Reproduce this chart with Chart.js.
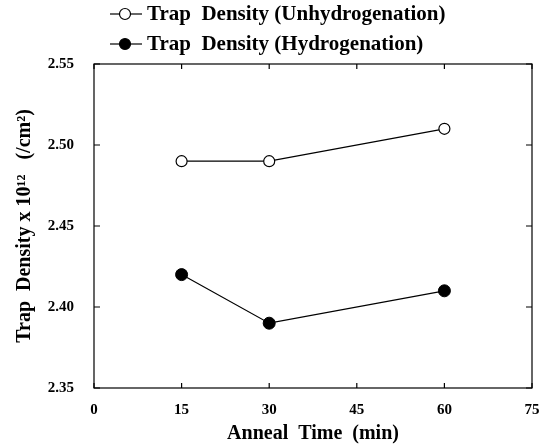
<!DOCTYPE html>
<html lang="en">

<head>
    <meta charset="UTF-8">
    <title>Trap Density vs Anneal Time</title>
    <script src="https://cdn.jsdelivr.net/npm/chart.js"></script>
    <style>
        body { margin: 0; background: #fff; }
        #box { width: 558px; height: 448px; }
    </style>
</head>

<body>
    <div id="box">
        <canvas id="graficoTrap" width="558" height="448"></canvas>
    </div>

<script>

    // dados
    const annealTimes = [15, 30, 60];
    const unhydrogenated = [2.49, 2.49, 2.51];
    const hydrogenated = [2.42, 2.39, 2.41];
    const xTicks = [0, 15, 30, 45, 60, 75];
    const yTicks = [2.35, 2.40, 2.45, 2.50, 2.55];

    const serif = "'Liberation Serif', 'Times New Roman', serif";

    // caixa em volta + ticks pra dentro
    const moldura = {
        id: 'moldura',
        afterDraw(chart) {
            const { ctx, chartArea: a, scales } = chart;
            ctx.save();
            ctx.strokeStyle = '#000';
            ctx.lineWidth = 1.2;
            ctx.strokeRect(a.left, a.top, a.right - a.left, a.bottom - a.top);
            ctx.beginPath();
            scales.x.ticks.forEach(t => {
                const px = scales.x.getPixelForValue(t.value);
                ctx.moveTo(px, a.bottom); ctx.lineTo(px, a.bottom - 5);
                ctx.moveTo(px, a.top); ctx.lineTo(px, a.top + 5);
            });
            scales.y.ticks.forEach(t => {
                const py = scales.y.getPixelForValue(t.value);
                ctx.moveTo(a.left, py); ctx.lineTo(a.left + 6, py);
                ctx.moveTo(a.right, py); ctx.lineTo(a.right - 6, py);
            });
            ctx.stroke();
            ctx.restore();
        }
    };

    // legenda em duas linhas, linha + marcador
    const legenda = {
        id: 'legenda',
        afterDraw(chart) {
            const ctx = chart.ctx;
            ctx.save();
            chart.data.datasets.forEach((ds, i) => {
                const y = 14 + i * 30;
                ctx.strokeStyle = '#000';
                ctx.lineWidth = 1.2;
                ctx.beginPath();
                ctx.moveTo(110, y); ctx.lineTo(142, y);
                ctx.stroke();
                ctx.beginPath();
                ctx.arc(125, y, 5.5, 0, Math.PI * 2);
                ctx.fillStyle = ds.pointBackgroundColor;
                ctx.fill();
                ctx.stroke();
                ctx.fillStyle = '#000';
                ctx.font = `bold 21px ${serif}`;
                ctx.textBaseline = 'middle';
                ctx.fillText(ds.label, 147, y + 1);
            });
            ctx.restore();
        }
    };

    const ctx = document.getElementById('graficoTrap').getContext('2d');

    new Chart(ctx, {
        type: 'line',
        data: {
            datasets: [
                {
                    label: 'Trap  Density (Unhydrogenation)',
                    data: annealTimes.map((t, i) => ({ x: t, y: unhydrogenated[i] })),
                    borderColor: '#000',
                    borderWidth: 1.2,
                    pointRadius: 5.5,
                    pointBorderWidth: 1.2,
                    pointBackgroundColor: '#fff',
                    pointBorderColor: '#000'
                },
                {
                    label: 'Trap  Density (Hydrogenation)',
                    data: annealTimes.map((t, i) => ({ x: t, y: hydrogenated[i] })),
                    borderColor: '#000',
                    borderWidth: 1.2,
                    pointRadius: 6,
                    pointBorderWidth: 1,
                    pointBackgroundColor: '#000',
                    pointBorderColor: '#000'
                }
            ]
        },
        options: {
            responsive: false,
            animation: false,
            layout: { padding: { top: 64, right: 26, left: 0, bottom: 0 } },
            plugins: {
                legend: { display: false },
                tooltip: { enabled: false }
            },
            scales: {
                x: {
                    type: 'linear',
                    min: 0,
                    max: 75,
                    afterBuildTicks: s => { s.ticks = xTicks.map(v => ({ value: v })); },
                    afterFit: s => { s.height = 60; },
                    grid: { display: false, drawTicks: false },
                    border: { display: false },
                    ticks: {
                        color: '#000',
                        padding: 13,
                        font: { family: serif, size: 15, weight: 'bold' }
                    },
                    title: {
                        display: true,
                        text: 'Anneal  Time  (min)',
                        color: '#000',
                        padding: { top: 0, bottom: 2 },
                        font: { family: serif, size: 20, weight: 'bold' }
                    }
                },
                y: {
                    min: 2.35,
                    max: 2.55,
                    afterBuildTicks: s => { s.ticks = yTicks.map(v => ({ value: v })); },
                    afterFit: s => { s.width = 94; },
                    grid: { display: false, drawTicks: false },
                    border: { display: false },
                    ticks: {
                        color: '#000',
                        padding: 20,
                        callback: v => v.toFixed(2),
                        font: { family: serif, size: 15, weight: 'bold' }
                    },
                    title: {
                        display: true,
                        text: 'Trap  Density x 10¹²   (/cm²)',
                        color: '#000',
                        padding: { top: 13, bottom: 0 },
                        font: { family: serif, size: 20, weight: 'bold' }
                    }
                }
            }
        },
        plugins: [moldura, legenda]
    });

</script>
</body>

</html>
